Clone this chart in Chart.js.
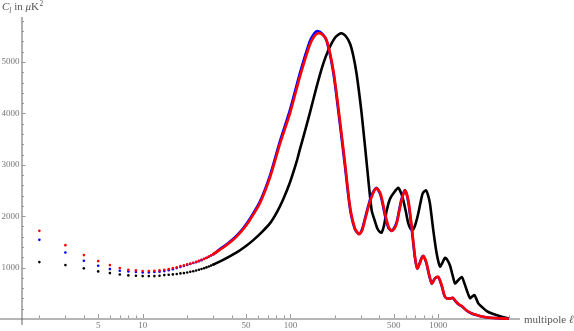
<!DOCTYPE html>
<html><head><meta charset="utf-8">
<script src="https://cdn.jsdelivr.net/npm/chart.js@4/dist/chart.umd.min.js"></script>
<style>html,body{margin:0;padding:0;background:#fff;overflow:hidden}#wrap{width:574px;height:331px}</style>
</head><body><div id="wrap"><canvas id="c" width="574" height="331"></canvas></div>
<script>
// ---- data ----
const lowEll   = [2,3,4,5,6,7,8,9,10,11,12,13,14,15,16,17,18,19,20,21,22,23,24,25,26,27,28,29,30];
const redLow   = [1715,1437,1243,1126,1049,990,958,945,932,932,938,945,958,971,990,1004,1029,1043,1062,1078,1094,1112,1130,1150,1170,1192,1214,1238,1262];
const blueLow  = [1540,1295,1133,1036,971,938,926,913,906,906,913,919,932,950,970,990,1012,1032,1052,1070,1088,1106,1125,1145,1166,1188,1210,1234,1258];
const blackLow = [1107,1049,985,926,893,867,848,841,835,835,835,841,854,860,868,874,887,893,906,918,930,943,957,972,988,1004,1021,1039,1057];

const redEll = [33,38,43,48,53,62,73,85,99,116,135,145,154,165,176,195,216,234,253,273,291,305,319,337,354,379,403,420,436,460,484,505,523,545,565,595,627,661,696,721,745,772,791,812,834,868,902,925,950,1000,1054,1100,1140,1200,1252,1300,1366,1440,1557,1680,1820,2000,2238,2600,3000];
const redCl  = [1340,1465,1598,1750,1922,2247,2770,3412,3990,4720,5330,5500,5560,5530,5417,4835,3864,3023,2180,1761,1650,1720,1922,2180,2375,2540,2466,2280,2052,1800,1715,1760,1858,2100,2311,2505,2311,1792,1210,985,1060,1179,1229,1180,1082,860,693,730,790,821,660,460,402,395,414,360,291,252,165,110,78,45,25,12,6];

const blueEll = [33,38,43,48,53,62,73,85,99,116,135,145,152,165,176,195,216,234,253,273,291,305,319,337,354,379,403,420,436,460,484,505,523,545,565,595,627,661,696,721,745,772,791,812,834,868,902,925,950,1000,1054,1100,1140,1200,1252,1300,1366,1440,1557,1680,1820,2000,2238,2600,3000];
const blueCl  = [1350,1478,1615,1770,1945,2280,2810,3465,4060,4790,5400,5560,5600,5540,5400,4790,3790,2960,2140,1745,1655,1745,1955,2215,2410,2550,2440,2240,2010,1770,1715,1780,1885,2135,2340,2505,2270,1750,1180,985,1075,1195,1225,1165,1065,845,690,735,795,815,645,450,400,398,410,352,285,248,160,108,76,44,24,12,6];

const blackEll = [35,43,50,56,64,73,81,89,99,110,116,122,135,150,165,180,200,220,237,253,266,280,303,328,354,370,387,400,413,430,448,470,496,536,560,580,604,627,650,677,705,732,760,784,825,850,878,925,975,1027,1060,1110,1150,1200,1250,1297,1350,1440,1500,1557,1639,1700,1758,1865,1966,2126,2356,2685,3000];
const blackCl  = [1150,1290,1420,1534,1690,1870,2080,2320,2650,3060,3310,3535,4000,4511,4930,5223,5470,5559,5500,5353,5120,4771,3994,3023,2117,1930,1760,1700,1680,1830,2117,2330,2441,2550,2450,2311,2080,1858,1750,1742,1870,2052,2280,2441,2505,2420,2247,1728,1276,1020,1080,1190,1150,1040,850,693,740,816,700,563,408,440,466,305,239,155,97,45,12];

const yMajorTicks = [1000,2000,3000,4000,5000];
const xTickLabels = [5,10,50,100,500,1000];
const xLabel = 'multipole ';
const xLabelItalic = 'ℓ';

// ---- build ----
function pts(ex, ey){ return ex.map((e,i)=>({x:e,y:ey[i]})); }
const DOT_MAX = 30;
function ds(label, color, lowY, ell, cl){
  return {
    label, data: pts(lowEll, lowY).concat(pts(ell, cl)),
    borderColor: color, backgroundColor: color,
    pointBackgroundColor: color, pointBorderWidth: 0,
    pointRadius: c => (c.raw && c.raw.x <= DOT_MAX) ? 1.3 : 0,
    pointHoverRadius: 0,
    borderWidth: 2.6, tension: 0.25, clip: 6,
    segment: { borderColor: c => c.p0.parsed.x < DOT_MAX ? 'rgba(0,0,0,0)' : undefined }
  };
}

const serif = '"Liberation Serif","Times New Roman",serif';
const axesPlugin = {
  id: 'mmaAxes',
  beforeDatasetsDraw(chart){
    const ctx = chart.ctx, xs = chart.scales.x, ys = chart.scales.y;
    const y0 = ys.getPixelForValue(0);
    const xl = xs.left;
    ctx.save();
    ctx.fillStyle = '#b5b5b5';
    ctx.fillRect(0, y0 - 1, xs.right - 0, 2);
    ctx.fillStyle = '#666';
    ctx.fillRect(Math.round(xl) - 0.5, ys.top, 1, y0 - ys.top + 6);
    ctx.strokeStyle = '#999'; ctx.lineWidth = 1;
    for (let v = 200; v < ys.max; v += 200) {
      const py = Math.round(ys.getPixelForValue(v)) + 0.5;
      const len = (v % 1000 === 0) ? 4 : 2.5;
      ctx.beginPath(); ctx.moveTo(xl, py); ctx.lineTo(xl + len, py); ctx.stroke();
    }
    for (let d = 1; d <= 1000; d *= 10) {
      for (let m = 1; m <= 9; m++) {
        const v = d * m;
        if (v < xs.min || v > xs.max) continue;
        const px = Math.round(xs.getPixelForValue(v)) + 0.5;
        const len = xTickLabels.includes(v) ? 4 : 2.5;
        ctx.beginPath(); ctx.moveTo(px, y0 - 1); ctx.lineTo(px, y0 - 1 - len); ctx.stroke();
      }
    }
    ctx.fillStyle = '#777';
    ctx.font = '9px ' + serif;
    ctx.textAlign = 'right'; ctx.textBaseline = 'middle';
    yMajorTicks.forEach(v => ctx.fillText(String(v), xl - 2, ys.getPixelForValue(v)));
    ctx.textAlign = 'center'; ctx.textBaseline = 'top';
    xTickLabels.forEach(v => ctx.fillText(String(v), xs.getPixelForValue(v), y0 + 2));
    ctx.fillStyle = '#555';
    ctx.textAlign = 'left'; ctx.textBaseline = 'alphabetic';
    let x = 2, b = 10;
    ctx.font = 'italic 11px ' + serif; ctx.fillText('C', x, b); x += ctx.measureText('C').width;
    ctx.font = 'italic 7.5px ' + serif; ctx.fillText('l', x, b + 2.5); x += ctx.measureText('l').width;
    ctx.font = '11px ' + serif; ctx.fillText(' in ', x, b); x += ctx.measureText(' in ').width;
    ctx.font = 'italic 11px ' + serif; ctx.fillText('μ', x, b); x += ctx.measureText('μ').width;
    ctx.font = '11px ' + serif; ctx.fillText('K', x, b); x += ctx.measureText('K').width;
    ctx.font = '7.5px ' + serif; ctx.fillText('2', x + 0.5, b - 4.5);
    x = xs.right + 4; b = y0 + 3.5;
    ctx.font = '11px ' + serif; ctx.fillText(xLabel, x, b); x += ctx.measureText(xLabel).width;
    ctx.font = 'italic 11px ' + serif; ctx.fillText(xLabelItalic, x, b);
    ctx.restore();
  }
};

new Chart(document.getElementById('c'), {
  type: 'line',
  data: { datasets: [
    ds('red', '#ff0000', redLow, redEll, redCl),
    ds('blue', '#0000ff', blueLow, blueEll, blueCl),
    ds('black', '#000000', blackLow, blackEll, blackCl)
  ]},
  options: {
    responsive: false, devicePixelRatio: 1, animation: false,
    layout: { padding: { left: 21.5, right: 54, top: 17, bottom: 12 } },
    plugins: { legend: { display: false }, tooltip: { enabled: false } },
    events: [],
    scales: {
      x: { type: 'logarithmic', min: 1.514, max: 3571, display: false },
      y: { type: 'linear', min: 0, max: 5875, display: false }
    }
  },
  plugins: [axesPlugin]
});
</script></body></html>
